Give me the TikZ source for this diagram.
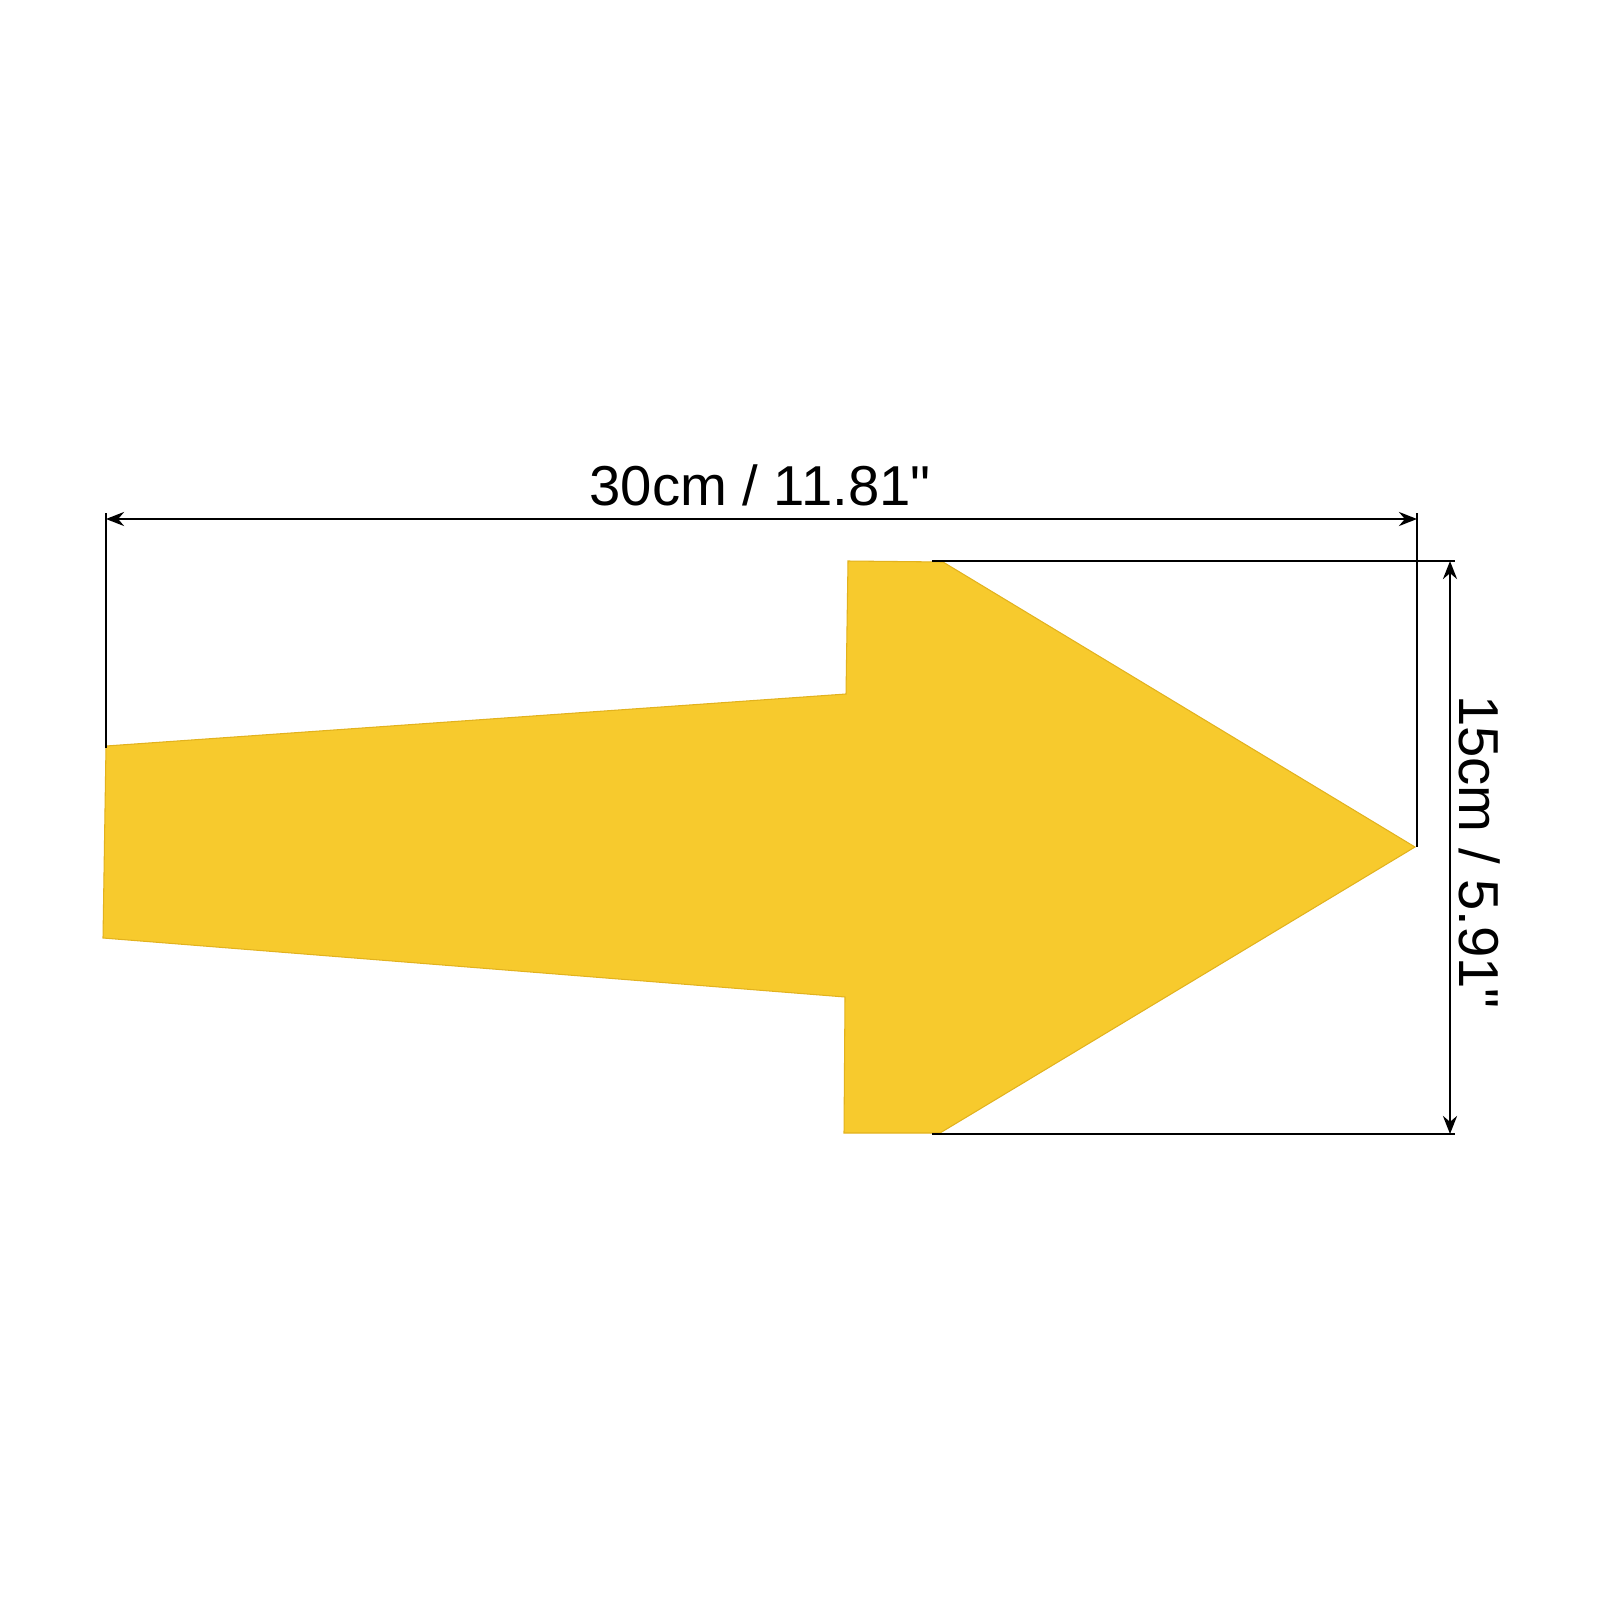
\documentclass[tikz,border=0pt]{standalone}
\usepackage{fontspec}
\setmainfont{Liberation Sans}[Ligatures=TeXReset]
\usetikzlibrary{arrows.meta}
\definecolor{signyellow}{RGB}{247,202,45}
\definecolor{signedge}{RGB}{226,178,30}
\tikzset{
  dimline/.style={line width=0.8pt, {Stealth[length=1.8mm,width=1.4mm]}-{Stealth[length=1.8mm,width=1.4mm]}},
  extline/.style={line width=0.8pt},
  dimlabel/.style={font=\fontsize{16}{19}\selectfont, inner sep=0pt, anchor=base}
}
\begin{document}
\begin{tikzpicture}[x=0.01cm,y=-0.01cm]

  \useasboundingbox (0,0) rectangle (1600,1600);

  % corners of the arrow sign
  \coordinate (tailtop) at (106,746);
  \coordinate (tailbot) at (103,938);
  \coordinate (shaftbot) at (845,997);
  \coordinate (notchbot) at (844,1133);
  \coordinate (headbot) at (940,1133);
  \coordinate (tip) at (1415,847);
  \coordinate (headtop) at (943,562);
  \coordinate (notchtop) at (848,561);
  \coordinate (shafttop) at (846,694);

  \filldraw[fill=signyellow, draw=signedge, line width=0.3pt]
    (tailtop) -- (shafttop) -- (notchtop) -- (headtop) -- (tip)
    -- (headbot) -- (notchbot) -- (shaftbot) -- (tailbot) -- cycle;

  % extension lines
  \coordinate (wleft) at (106,513);
  \coordinate (wright) at (1417,513);
  \coordinate (htop) at (932,561);
  \coordinate (hbot) at (932,1134);
  \draw[extline] (wleft) -- (106,748);
  \draw[extline] (wright) -- (1417,847);
  \draw[extline] (htop) -- (1455,561);
  \draw[extline] (hbot) -- (1455,1134);

  % dimensions
  \coordinate (wa) at (106,519);
  \coordinate (wb) at (1417,519);
  \coordinate (ha) at (1450,561);
  \coordinate (hb) at (1450,1134);
  \draw[dimline] (wa) -- (wb);
  \draw[dimline] (ha) -- (hb);

  \node[dimlabel] (width) at (760,505) {30cm / 11.81"};
  \node[dimlabel, rotate=-90] (height) at (1459,852) {15cm / 5.91"};

\end{tikzpicture}
\end{document}
